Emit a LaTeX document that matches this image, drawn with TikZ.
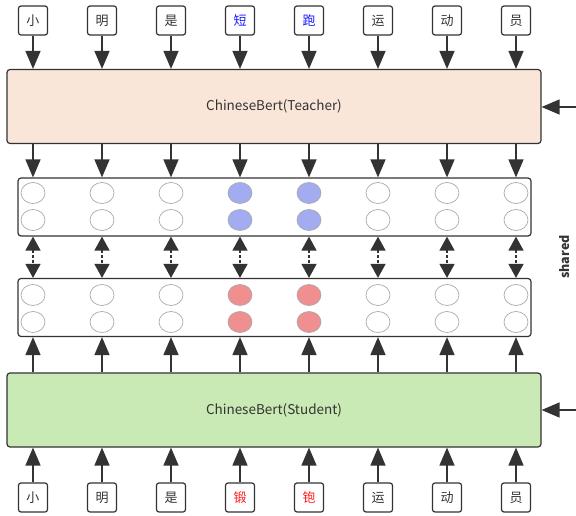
\documentclass[tikz,border=0pt]{standalone}
\usepackage{fontspec}
\setmainfont{Noto Sans CJK SC}
\usepackage{xcolor}
\usepackage{tikz}
\usetikzlibrary{positioning, shapes.geometric, arrows.meta, calc}
\definecolor{diagline}{HTML}{333333}
\definecolor{teachfill}{HTML}{FAE6D8}
\definecolor{studfill}{HTML}{C9EAB5}
\definecolor{hidblue}{HTML}{A3ACF1}
\definecolor{hidred}{HTML}{EF8F90}
\definecolor{hidedge}{HTML}{AAAAAA}
\definecolor{errblue}{HTML}{1A1AFF}
\definecolor{errred}{HTML}{FF1A1A}
\tikzset{
  tip/.tip={Triangle[length=18pt,width=15pt]},
  stip/.tip={Triangle[length=14pt,width=15pt]}}

\begin{document}
\begin{tikzpicture}[x=1pt,y=-1pt,
  ch/.style={draw=diagline, line width=1.2pt, rounded corners=2.5pt, minimum size=29pt, inner sep=0pt, font=\fontsize{13}{13}\selectfont},
  model/.style={draw=diagline, line width=1.2pt, rounded corners=3pt, minimum width=534pt, minimum height=74pt, inner sep=0pt, font=\fontsize{13.5}{14}\selectfont, text=diagline},
  hid/.style={draw=diagline, line width=1.2pt, rounded corners=3pt, minimum width=513pt, minimum height=58pt, inner sep=0pt},
  dot/.style={ellipse, draw=hidedge, line width=0.7pt, minimum width=24pt, minimum height=21pt, inner sep=0pt},
  arr/.style={-tip, line width=1.5pt, draw=diagline},
  darr/.style={stip-stip, line width=1.5pt, draw=diagline, dash pattern=on 3pt off 2pt}]
\useasboundingbox (0,0) rectangle (576,516);

\node[model,fill=teachfill](teacher) at (274,106.5){ChineseBert(Teacher)};
\node[model,fill=studfill](student) at (274,410){ChineseBert(Student)};
\node[hid](hidT) at (274.5,207){};
\node[hid](hidS) at (274.5,307.5){};

% input tokens
\foreach \w/\col [count=\i] in {小/diagline,明/diagline,是/diagline,短/errblue,跑/errblue,运/diagline,动/diagline,员/diagline}{
  \node[ch,text=\col](tw\i) at (33+69*\i-69,20.5){\w};}
\foreach \w/\col [count=\i] in {小/diagline,明/diagline,是/diagline,锻/errred,铇/errred,运/diagline,动/diagline,员/diagline}{
  \node[ch,text=\col](sw\i) at (33+69*\i-69,497.5){\w};}

% hidden states
\foreach \ft/\fs [count=\i] in {white/white,white/white,white/white,hidblue/hidred,hidblue/hidred,white/white,white/white,white/white}{
  \node[dot,fill=\ft](ta\i) at (33+69*\i-69,193){};
  \node[dot,fill=\ft](tb\i) at (33+69*\i-69,220){};
  \node[dot,fill=\fs](sa\i) at (33+69*\i-69,295){};
  \node[dot,fill=\fs](sb\i) at (33+69*\i-69,322){};}

\foreach \i in {1,...,8}{
  \draw[arr](tw\i)--(tw\i |- teacher.north);
  \draw[arr](teacher.south -| tw\i)--(hidT.north -| tw\i);
  \draw[darr](hidT.south -| tw\i)--(hidS.north -| tw\i);
  \draw[arr](student.north -| sw\i)--(hidS.south -| sw\i);
  \draw[arr](sw\i)--(sw\i |- student.south);}

\coordinate(tin) at (576,107);
\coordinate(sin) at (576,410);
\draw[arr](tin)--(teacher.east |- tin);
\draw[arr](sin)--(student.east |- sin);

\node[rotate=90,font=\bfseries\fontsize{12.5}{12.5}\selectfont,text=diagline](shr) at (565,257){shared};

\end{tikzpicture}
\end{document}
